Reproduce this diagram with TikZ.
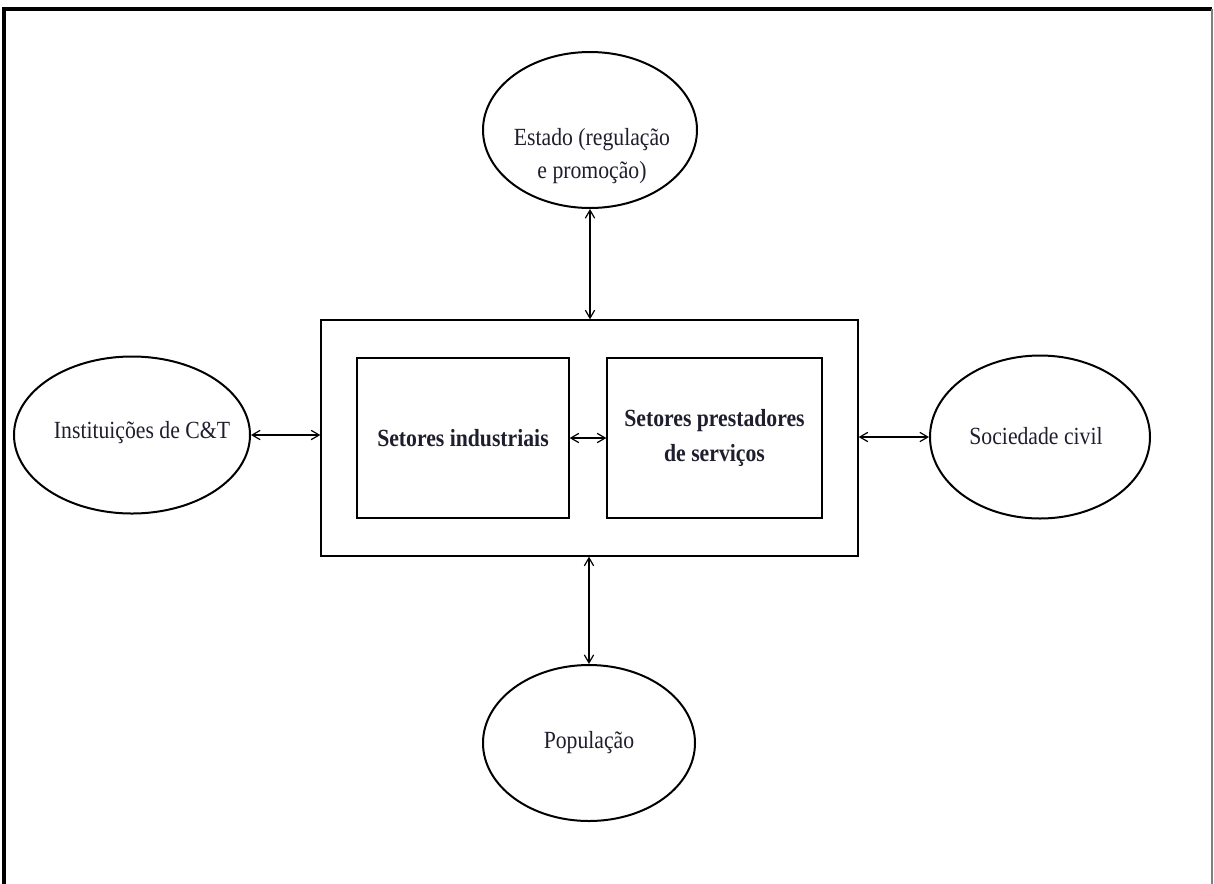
\documentclass[tikz,border=0pt]{standalone}
\usepackage{fontspec}
\setmainfont{Liberation Serif}[FakeStretch=0.88]
\usetikzlibrary{shapes.geometric,arrows.meta}
\definecolor{txt}{HTML}{1E1E2E}
\begin{document}
\begin{tikzpicture}[x=0.75pt,y=-0.75pt,
  oval/.style={ellipse,draw,line width=1.5pt,inner sep=0pt},
  lbl/.style={text=txt,font=\fontsize{18.5}{25}\selectfont,align=center},
  box/.style={draw,line width=1pt,inner sep=0pt,text=txt,font=\fontsize{18.5}{26}\selectfont\bfseries,align=center},
  link/.style={line width=0.9pt,{Straight Barb[length=6pt,width=7pt]}-{Straight Barb[length=6pt,width=7pt]}}]
\useasboundingbox (0,0) rectangle (1214,883);
\begin{scope}
\clip (0,0) rectangle (1214,883);
\draw[line width=2.4pt] (4,900) -- (4,9) -- (1212,9);
\draw[line width=1pt,gray] (1212,9) -- (1212,900);
\end{scope}
% outer and inner boxes
\node[box,minimum width=537*0.75pt,minimum height=236*0.75pt] (outer) at (589.5,438) {};
\node[box,minimum width=212*0.75pt,minimum height=160*0.75pt] (ind) at (463,438) {Setores industriais};
\node[box,minimum width=215*0.75pt,minimum height=160*0.75pt] (serv) at (714.5,438) {Setores prestadores\\de serviços};
% ellipses
\node[oval,minimum width=214*0.75pt,minimum height=156*0.75pt] (est) at (590,130) {};
\node[lbl] (estl) at (592,156) {Estado (regulação\\e promoção)};
\node[oval,minimum width=236*0.75pt,minimum height=157*0.75pt] (inst) at (132,435) {};
\node[lbl] (instl) at (142,433) {Instituições de C\&T};
\node[oval,minimum width=220*0.75pt,minimum height=163*0.75pt] (soc) at (1040,437) {};
\node[lbl] (socl) at (1036,436) {Sociedade civil};
\node[oval,minimum width=212*0.75pt,minimum height=156*0.75pt] (pop) at (589,743) {};
\node[lbl] (popl) at (589,743) {População};
% connectors
\draw[link] (est.south) -- (est.south |- outer.north);
\draw[link] (inst.east) -- (inst.east -| outer.west);
\draw[link] (ind.east) -- (ind.east -| serv.west);
\draw[link] (soc.west -| outer.east) -- (soc.west);
\draw[link] (pop.north |- outer.south) -- (pop.north);
\end{tikzpicture}
\end{document}
